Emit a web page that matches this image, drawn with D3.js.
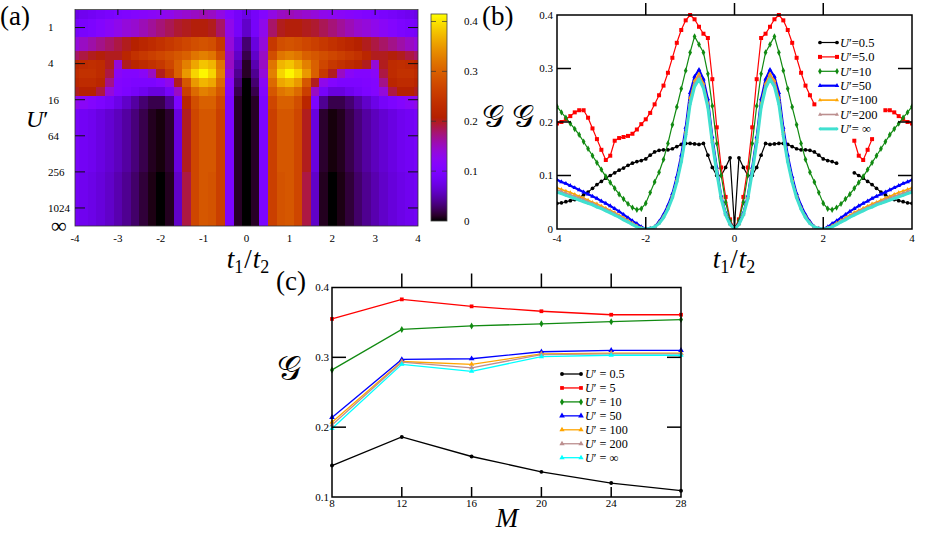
<!DOCTYPE html>
<html>
<head>
<meta charset="utf-8">
<script src="https://cdn.jsdelivr.net/npm/d3@7"></script>
<style>
  body { margin: 0; background: #fff; }
  svg, svg text { font-family: 'Liberation Serif', 'Times New Roman', 'DejaVu Serif', serif; }
</style>
</head>
<body>
<svg id="fig" width="927" height="538" font-family="Liberation Serif, Times New Roman, DejaVu Serif, serif"></svg>
<script>
// ---------------- data ----------------
// panel (b): G versus t1/t2 for several U'
const tGrid = [-4,-3.9,-3.8,-3.7,-3.6,-3.5,-3.4,-3.3,-3.2,-3.1,-3,-2.9,-2.8,-2.7,-2.6,-2.5,-2.4,-2.3,-2.2,-2.1,
  -2,-1.9,-1.8,-1.7,-1.6,-1.5,-1.4,-1.3,-1.2,-1.1,-1,-0.9,-0.8,-0.7,-0.6,-0.5,-0.4,-0.3,-0.2,-0.1,0,
  0.1,0.2,0.3,0.4,0.5,0.6,0.7,0.8,0.9,1,1.1,1.2,1.3,1.4,1.5,1.6,1.7,1.8,1.9,2,
  2.1,2.2,2.3,2.4,2.5,2.6,2.7,2.8,2.9,3,3.1,3.2,3.3,3.4,3.5,3.6,3.7,3.8,3.9,4];

const gU05 = [0.048,0.049,0.051,0.053,0.055,0.059,0.064,0.069,0.076,0.083,
  0.089,0.095,0.100,0.105,0.110,0.114,0.119,0.123,0.126,0.128,
  0.131,0.138,0.144,0.147,0.148,0.148,0.150,0.154,0.158,0.160,
  0.160,0.159,0.158,0.160,0.138,0.115,0.100,0.100,0.115,0.133,
  0.005,
  0.133,0.115,0.100,0.100,0.115,0.138,0.160,0.158,0.159,0.160,
  0.160,0.158,0.154,0.150,0.148,0.148,0.147,0.144,0.138,0.131,
  0.128,0.126,0.123,null,null,null,0.105,0.100,0.095,0.089,
  0.083,0.076,0.069,0.064,0.059,0.055,0.053,0.051,0.049,0.048];

const gU5 = [0.197,0.200,0.205,0.211,0.218,0.222,0.222,0.208,0.188,0.168,
  0.148,0.129,0.137,0.165,0.170,0.172,0.174,0.178,0.186,0.196,
  0.205,0.217,0.233,0.250,0.268,0.292,0.320,0.348,0.372,0.390,
  0.400,0.392,0.378,0.365,0.357,0.280,0.190,0.115,0.060,0.018,
  0.000,
  0.018,0.060,0.115,0.190,0.280,0.357,0.365,0.378,0.392,0.400,
  0.390,0.372,0.348,0.320,0.292,0.268,0.250,0.233,null,null,
  null,null,null,null,null,null,0.165,0.137,0.129,0.148,
  0.168,null,null,0.222,0.222,0.218,0.211,0.205,0.200,0.197];

const gU10 = [0.229,0.218,0.208,0.197,0.187,0.176,0.163,0.150,0.137,0.124,
  0.111,0.098,0.087,0.076,0.065,0.056,0.047,0.040,0.036,0.038,
  0.048,0.068,0.088,0.106,0.130,0.160,0.195,0.228,0.262,0.296,
  0.330,0.360,0.345,0.330,0.290,0.230,0.160,0.100,0.050,0.015,
  0.000,
  0.015,0.050,0.100,0.160,0.230,0.290,0.330,0.345,0.360,0.330,
  0.296,0.262,0.228,0.195,0.160,0.130,0.106,0.088,0.068,0.048,
  0.038,0.036,0.040,0.047,0.056,0.065,0.076,0.087,0.098,0.111,
  0.124,0.137,0.150,0.163,0.176,0.187,0.197,0.208,0.218,0.229];

const gU50 = [0.092,0.088,0.085,0.081,0.077,0.073,0.069,0.065,0.061,0.057,
  0.052,0.048,0.043,0.038,0.033,0.027,0.021,0.015,0.010,0.004,
  0.000,0.001,0.004,0.014,0.027,0.044,0.066,0.098,0.138,0.190,
  0.255,0.285,0.298,0.280,0.243,0.172,0.115,0.062,0.030,0.010,
  0.000,
  0.010,0.030,0.062,0.115,0.172,0.243,0.280,0.298,0.285,0.255,
  0.190,0.138,0.098,0.066,0.044,0.027,0.014,0.004,0.001,0.000,
  0.004,0.010,0.015,0.021,0.027,0.033,0.038,0.043,0.048,0.052,
  0.057,0.061,0.065,0.069,0.073,0.077,0.081,0.085,0.088,0.092];

const gU100 = [0.077,0.074,0.071,0.068,0.065,0.061,0.058,0.054,0.050,0.047,
  0.043,0.039,0.035,0.031,0.026,0.021,0.016,0.011,0.006,0.002,
  0.000,0.001,0.004,0.012,0.024,0.040,0.062,0.092,0.130,0.182,
  0.245,0.277,0.290,0.272,0.235,0.166,0.110,0.059,0.028,0.009,
  0.000,
  0.009,0.028,0.059,0.110,0.166,0.235,0.272,0.290,0.277,0.245,
  0.182,0.130,0.092,0.062,0.040,0.024,0.012,0.004,0.001,0.000,
  0.002,0.006,0.011,0.016,0.021,0.026,0.031,0.035,0.039,0.043,
  0.047,0.050,0.054,0.058,0.061,0.065,0.068,0.071,0.074,0.077];

const gU200 = [0.073,0.070,0.067,0.064,0.061,0.058,0.055,0.051,0.048,0.044,
  0.040,0.037,0.033,0.029,0.024,0.019,0.015,0.010,0.005,0.001,
  0.000,0.001,0.004,0.011,0.023,0.039,0.060,0.090,0.128,0.178,
  0.240,0.272,0.285,0.268,0.231,0.163,0.108,0.058,0.027,0.009,
  0.000,
  0.009,0.027,0.058,0.108,0.163,0.231,0.268,0.285,0.272,0.240,
  0.178,0.128,0.090,0.060,0.039,0.023,0.011,0.004,0.001,0.000,
  0.001,0.005,0.010,0.015,0.019,0.024,0.029,0.033,0.037,0.040,
  0.044,0.048,0.051,0.055,0.058,0.061,0.064,0.067,0.070,0.073];

const gUInf = [0.069,0.066,0.063,0.060,0.057,0.054,0.051,0.048,0.045,0.041,
  0.038,0.034,0.030,0.026,0.022,0.017,0.013,0.008,0.004,0.001,
  0.000,0.001,0.004,0.010,0.021,0.037,0.058,0.087,0.125,0.173,
  0.233,0.266,0.280,0.263,0.227,0.160,0.105,0.056,0.026,0.008,
  0.000,
  0.008,0.026,0.056,0.105,0.160,0.227,0.263,0.280,0.266,0.233,
  0.173,0.125,0.087,0.058,0.037,0.021,0.010,0.004,0.001,0.000,
  0.001,0.004,0.008,0.013,0.017,0.022,0.026,0.030,0.034,0.038,
  0.041,0.045,0.048,0.051,0.054,0.057,0.060,0.063,0.066,0.069];

const bLabels = ['0.5', '5.0', '10', '50', '100', '200', ' \u221E'];

// panel (c): G versus M
const mVals = [8, 12, 16, 20, 24, 28];
const cU05 = [0.145, 0.186, 0.158, 0.136, 0.120, 0.109];
const cU5 = [0.355, 0.383, 0.373, 0.366, 0.361, 0.361];
const cU10 = [0.282, 0.340, 0.345, 0.348, 0.351, 0.354];
const cU50 = [0.214, 0.297, 0.298, 0.308, 0.310, 0.310];
const cU100 = [0.207, 0.294, 0.290, 0.305, 0.306, 0.306];
const cU200 = [0.203, 0.293, 0.285, 0.304, 0.305, 0.305];
const cUInf = [0.198, 0.290, 0.280, 0.301, 0.303, 0.303];
const cLabels = ['0.5', '5', '10', '50', '100', '200', '\u221E'];

// panel (a): map of G over (t1/t2, U')
const heatT = [-4,-3.8,-3.6,-3.4,-3.2,-3,-2.8,-2.6,-2.4,-2.2,-2,-1.8,-1.6,-1.4,-1.2,-1,-0.8,-0.6,-0.4,-0.2,0,
  0.2,0.4,0.6,0.8,1,1.2,1.4,1.6,1.8,2,2.2,2.4,2.6,2.8,3,3.2,3.4,3.6,3.8,4];
const heatU = [0.5, 1, 2, 3, 4, 6, 8, 12, 16, 32, Infinity];
const h05 = [0.075,0.08,0.085,0.09,0.095,0.1,0.105,0.11,0.115,0.12,0.125,0.13,0.14,0.145,0.15,0.155,0.15,0.135,0.11,0.09,0.075,
  0.09,0.11,0.135,0.15,0.155,0.15,0.145,0.14,0.13,0.125,0.12,0.115,0.11,0.105,0.1,0.095,0.09,0.085,0.08,0.075];
const h1 = [0.09,0.095,0.1,0.11,0.12,0.13,0.14,0.145,0.155,0.165,0.175,0.185,0.195,0.2,0.205,0.205,0.2,0.18,0.13,0.09,0.06,
  0.09,0.13,0.18,0.2,0.205,0.205,0.2,0.195,0.185,0.175,0.165,0.155,0.145,0.14,0.13,0.12,0.11,0.1,0.095,0.09];
const h2 = [0.14,0.15,0.16,0.17,0.18,0.19,0.2,0.21,0.22,0.23,0.24,0.25,0.26,0.27,0.28,0.285,0.28,0.25,0.14,0.07,0.03,
  0.07,0.14,0.25,0.28,0.285,0.28,0.27,0.26,0.25,0.24,0.23,0.22,0.21,0.2,0.19,0.18,0.17,0.16,0.15,0.14];
const h3 = [0.18,0.19,0.2,0.205,0.2,0.2,0.22,0.24,0.25,0.26,0.27,0.28,0.29,0.3,0.32,0.33,0.32,0.28,0.15,0.06,0.02,
  0.06,0.15,0.28,0.32,0.33,0.32,0.3,0.29,0.28,0.27,0.26,0.25,0.24,0.22,0.2,0.2,0.205,0.2,0.19,0.18];
const h4 = [0.22,0.23,0.235,0.23,0.2,0.14,0.2,0.22,0.23,0.24,0.25,0.27,0.3,0.33,0.36,0.38,0.37,0.32,0.15,0.05,0.01,
  0.05,0.15,0.32,0.37,0.38,0.36,0.33,0.3,0.27,0.25,0.24,0.23,0.22,0.2,0.14,0.2,0.23,0.235,0.23,0.22];
const h6 = [0.23,0.24,0.24,0.23,0.19,0.12,0.11,0.11,0.12,0.15,0.2,0.25,0.3,0.35,0.39,0.41,0.39,0.33,0.14,0.04,0.01,
  0.04,0.14,0.33,0.39,0.41,0.39,0.35,0.3,0.25,0.2,0.15,0.12,0.11,0.11,0.12,0.19,0.23,0.24,0.24,0.23];
const h8 = [0.22,0.23,0.23,0.22,0.17,0.11,0.105,0.1,0.1,0.1,0.11,0.13,0.2,0.29,0.35,0.37,0.36,0.31,0.12,0.03,0,
  0.03,0.12,0.31,0.36,0.37,0.35,0.29,0.2,0.13,0.11,0.1,0.1,0.1,0.105,0.11,0.17,0.22,0.23,0.23,0.22];
const h12 = [0.2,0.21,0.21,0.19,0.14,0.11,0.1,0.09,0.08,0.07,0.07,0.09,0.15,0.26,0.31,0.33,0.32,0.29,0.11,0.02,0,
  0.02,0.11,0.29,0.32,0.33,0.31,0.26,0.15,0.09,0.07,0.07,0.08,0.09,0.1,0.11,0.14,0.19,0.21,0.21,0.2];
const h16 = [0.13,0.12,0.11,0.1,0.09,0.075,0.06,0.045,0.03,0.02,0.02,0.04,0.1,0.22,0.28,0.3,0.3,0.27,0.1,0.01,0,
  0.01,0.1,0.27,0.3,0.3,0.28,0.22,0.1,0.04,0.02,0.02,0.03,0.045,0.06,0.075,0.09,0.1,0.11,0.12,0.13];
const h32 = [0.09,0.085,0.08,0.072,0.064,0.055,0.045,0.033,0.02,0.008,0.003,0.012,0.07,0.2,0.27,0.29,0.29,0.26,0.1,0.01,0,
  0.01,0.1,0.26,0.29,0.29,0.27,0.2,0.07,0.012,0.003,0.008,0.02,0.033,0.045,0.055,0.064,0.072,0.08,0.085,0.09];
const hInf = [0.085,0.08,0.075,0.068,0.06,0.05,0.04,0.028,0.015,0.005,0,0.008,0.06,0.19,0.27,0.29,0.285,0.26,0.1,0.01,0,
  0.01,0.1,0.26,0.285,0.29,0.27,0.19,0.06,0.008,0,0.005,0.015,0.028,0.04,0.05,0.06,0.068,0.075,0.08,0.085];
const heatRows = [h05, h1, h2, h3, h4, h6, h8, h12, h16, h32, hInf];

const uTicks = [1, 4, 16, 64, 256, 1024];
const cbTicks = [0, 0.1, 0.2, 0.3, 0.4];
const cbMax = 0.415;

// ---------------- helpers ----------------
const SERIF = 'Liberation Serif, Times New Roman, DejaVu Serif, serif';
const svg = d3.select('#fig');

// gnuplot-like palette (rgbformulae 7,5,15)
const palette = (x) => {
  const c = (v) => Math.round(255 * Math.max(0, Math.min(1, v)));
  return `rgb(${c(Math.sqrt(x))},${c(x * x * x)},${c(Math.sin(2 * Math.PI * x))})`;
};
const color = d3.scaleSequential(palette).domain([0, cbMax]).clamp(true);

const italicU = (sel, rest) => {
  sel.append('tspan').attr('font-style', 'italic').text('U');
  sel.append('tspan').text('\u2032' + rest);
};

const tOverT = (g, x, y) => {
  const t = g.append('text').attr('x', x).attr('y', y)
    .attr('text-anchor', 'middle').attr('font-size', 27);
  t.append('tspan').attr('font-style', 'italic').text('t');
  t.append('tspan').attr('font-size', 18).attr('dy', 5).text('1');
  t.append('tspan').attr('dy', -5).attr('dx', 1).text('/');
  t.append('tspan').attr('font-style', 'italic').attr('dx', 1).text('t');
  t.append('tspan').attr('font-size', 18).attr('dy', 5).text('2');
};

const frameTicks = (g, x, y, xt, yt, lenX, lenY, sw) => {
  const [x0, x1] = x.range(), [y0, y1] = [y.range()[1], y.range()[0]];
  const ln = (a, b, c, d) => g.append('line').attr('x1', a).attr('y1', b).attr('x2', c).attr('y2', d)
    .attr('stroke', '#000').attr('stroke-width', sw);
  xt.forEach((v) => { ln(x(v), y0, x(v), y0 + lenX[0]); ln(x(v), y1, x(v), y1 - lenX[1]); });
  yt.forEach((v) => { ln(x0, y(v), x0 + lenY, y(v)); ln(x1, y(v), x1 - lenY, y(v)); });
  g.append('rect').attr('x', x0).attr('y', y0).attr('width', x1 - x0).attr('height', y1 - y0)
    .attr('fill', 'none').attr('stroke', '#000').attr('stroke-width', sw);
};

// ---------------- panel (a) ----------------
const gA = svg.append('g').attr('font-family', SERIF);
const ax = d3.scaleLinear().domain([-4, 4]).range([75, 418]);
const ay = d3.scaleLinear().domain([-1, 11]).range([9.5, 226]);
const lg = (u) => (u === Infinity ? 11 : Math.log2(u));
const halfStep = (heatT[1] - heatT[0]) / 2;

const cells = [];
heatRows.forEach((row, i) => {
  const top = i === 0 ? ay.domain()[0] : (lg(heatU[i - 1]) + lg(heatU[i])) / 2;
  const bot = i === heatU.length - 1 ? ay.domain()[1] : (lg(heatU[i]) + lg(heatU[i + 1])) / 2;
  row.forEach((v, j) => {
    cells.push({
      x0: Math.max(-4, heatT[j] - halfStep), x1: Math.min(4, heatT[j] + halfStep),
      top, bot, v
    });
  });
});
gA.append('g').selectAll('rect').data(cells).join('rect')
  .attr('x', (d) => ax(d.x0))
  .attr('y', (d) => ay(d.top))
  .attr('width', (d) => Math.min(418, ax(d.x1) + 0.6) - ax(d.x0))
  .attr('height', (d) => Math.min(226, ay(d.bot) + 0.6) - ay(d.top))
  .attr('fill', (d) => color(d.v))
  .attr('shape-rendering', 'crispEdges');
gA.append('rect').attr('x', 75).attr('y', 9.5).attr('width', 343).attr('height', 216.5)
  .attr('fill', 'none').attr('stroke', '#333').attr('stroke-width', 0.8);

// ticks of the map
uTicks.forEach((u) => {
  gA.append('line').attr('x1', 75).attr('x2', 85).attr('y1', ay(lg(u))).attr('y2', ay(lg(u)))
    .attr('stroke', '#111').attr('stroke-width', 1);
  gA.append('line').attr('x1', 408).attr('x2', 418).attr('y1', ay(lg(u))).attr('y2', ay(lg(u)))
    .attr('stroke', '#111').attr('stroke-width', 1);
  gA.append('text').attr('x', 48).attr('y', ay(lg(u))).attr('dy', '0.35em')
    .attr('font-size', 11).text(u);
});
gA.append('text').attr('x', 51).attr('y', ay(11)).attr('dy', '0.33em')
  .attr('font-size', 22).text('\u221E');
d3.range(-4, 5).forEach((v) => {
  if (v > -4 && v < 4) {
    gA.append('line').attr('x1', ax(v)).attr('x2', ax(v)).attr('y1', 9.5).attr('y2', 15)
      .attr('stroke', '#111').attr('stroke-width', 1);
  }
  gA.append('text').attr('x', ax(v)).attr('y', 238).attr('dy', '0.35em')
    .attr('text-anchor', 'middle').attr('font-size', 11).text(v < 0 ? '-' + Math.abs(v) : v);
});
const uLab = gA.append('text').attr('x', 26).attr('y', 127).attr('font-size', 24);
uLab.append('tspan').attr('font-style', 'italic').text('U');
uLab.append('tspan').text('\u2032');
tOverT(gA, 248, 268);
gA.append('text').attr('x', 0).attr('y', 25).attr('font-size', 27).text('(a)');

// colour bar
const cbY = d3.scaleLinear().domain([0, cbMax]).range([221, 14]);
const grad = svg.append('defs').append('linearGradient').attr('id', 'cbgrad')
  .attr('x1', 0).attr('y1', 1).attr('x2', 0).attr('y2', 0);
d3.range(0, 41).forEach((k) => {
  grad.append('stop').attr('offset', k / 40).attr('stop-color', color((k / 40) * cbMax));
});
gA.append('rect').attr('x', 431).attr('y', 14).attr('width', 16).attr('height', 207)
  .attr('fill', 'url(#cbgrad)').attr('stroke', '#444').attr('stroke-width', 0.8);
cbTicks.forEach((v) => {
  if (v > 0) {
    gA.append('line').attr('x1', 431).attr('x2', 436).attr('y1', cbY(v)).attr('y2', cbY(v))
      .attr('stroke', '#333').attr('stroke-opacity', 0.7);
    gA.append('line').attr('x1', 442).attr('x2', 447).attr('y1', cbY(v)).attr('y2', cbY(v))
      .attr('stroke', '#333').attr('stroke-opacity', 0.7);
  }
  gA.append('text').attr('x', 464).attr('y', cbY(v)).attr('dy', '0.35em')
    .attr('font-size', 11).text(v);
});

// ---------------- panel (b) ----------------
const gB = svg.append('g').attr('font-family', SERIF);
const bx = d3.scaleLinear().domain([-4, 4]).range([557, 912]);
const by = d3.scaleLinear().domain([0, 0.4]).range([229, 15]);

const bSeries = [
  { vals: gU05, color: '#000000', w: 1.2, sym: d3.symbolCircle, size: 11 },
  { vals: gU5, color: '#ff0000', w: 1.2, sym: d3.symbolSquare, size: 16 },
  { vals: gU10, color: '#118a11', w: 1.2, sym: d3.symbolDiamond, size: 12 },
  { vals: gU50, color: '#0000ff', w: 2.2, sym: d3.symbolTriangle, size: 9 },
  { vals: gU100, color: '#ffa500', w: 1.6, sym: d3.symbolTriangle, size: 7 },
  { vals: gU200, color: '#bc8f8f', w: 1.6, sym: d3.symbolTriangle, size: 7 },
  { vals: gUInf, color: '#40e0d0', w: 3, sym: d3.symbolCircle, size: 6 }
];
const bLine = d3.line().defined((d) => d[1] != null).x((d) => bx(d[0])).y((d) => by(d[1]));
const clip = svg.append('defs').append('clipPath').attr('id', 'clipB');
clip.append('rect').attr('x', 557).attr('y', 12).attr('width', 355).attr('height', 217);
const plotB = gB.append('g').attr('clip-path', 'url(#clipB)');
bSeries.forEach((s) => {
  const pts = tGrid.map((t, i) => [t, s.vals[i]]);
  plotB.append('path').attr('d', bLine(pts)).attr('fill', 'none')
    .attr('stroke', s.color).attr('stroke-width', s.w).attr('stroke-linejoin', 'round');
  plotB.append('g').selectAll('path').data(pts.filter((d) => d[1] != null)).join('path')
    .attr('d', d3.symbol(s.sym, s.size))
    .attr('transform', (d) => `translate(${bx(d[0])},${by(d[1])})`)
    .attr('fill', s.color);
});
frameTicks(gB, bx, by, [-2, 0, 2], [0.1, 0.2, 0.3], [-12, 12], 14, 1.5);
[0, 0.1, 0.2, 0.3, 0.4].forEach((v) => {
  gB.append('text').attr('x', 553).attr('y', by(v)).attr('dy', '0.35em')
    .attr('text-anchor', 'end').attr('font-size', 11).text(v);
});
[-4, -2, 0, 2, 4].forEach((v) => {
  gB.append('text').attr('x', bx(v)).attr('y', 238).attr('dy', '0.35em')
    .attr('text-anchor', 'middle').attr('font-size', 11).text(v < 0 ? '-' + Math.abs(v) : v);
});
// legend (b)
bSeries.forEach((s, i) => {
  const y = 42.5 + i * 14.4;
  gB.append('line').attr('x1', 820).attr('x2', 837).attr('y1', y).attr('y2', y)
    .attr('stroke', s.color).attr('stroke-width', s.w);
  [820, 837].forEach((x) => gB.append('path').attr('d', d3.symbol(s.sym, s.size)())
    .attr('transform', `translate(${x},${y})`).attr('fill', s.color));
  const t = gB.append('text').attr('x', 840).attr('y', y).attr('dy', '0.35em').attr('font-size', 12.5);
  italicU(t, '=' + bLabels[i]);
});
gB.append('text').attr('x', 482).attr('y', 127).attr('font-size', 31).text('\u{1D4A2} \u{1D4A2}');
tOverT(gB, 734, 268);
gB.append('text').attr('x', 482).attr('y', 25).attr('font-size', 27).text('(b)');

// ---------------- panel (c) ----------------
const gC = svg.append('g').attr('font-family', SERIF);
const cx = d3.scaleLinear().domain([8, 28]).range([332, 681]);
const cy = d3.scaleLinear().domain([0.1, 0.4]).range([497, 287.5]);
const cSeries = [
  { vals: cU05, color: '#000000', sym: d3.symbolCircle, size: 12 },
  { vals: cU5, color: '#ff0000', sym: d3.symbolSquare, size: 14 },
  { vals: cU10, color: '#118a11', sym: d3.symbolDiamond, size: 14 },
  { vals: cU50, color: '#0000ff', sym: d3.symbolTriangle, size: 14 },
  { vals: cU100, color: '#ffa500', sym: d3.symbolTriangle, size: 12 },
  { vals: cU200, color: '#bc8f8f', sym: d3.symbolTriangle, size: 12 },
  { vals: cUInf, color: '#00ffff', sym: d3.symbolTriangle, size: 12 }
];
const cLine = d3.line().x((d) => cx(d[0])).y((d) => cy(d[1]));
cSeries.forEach((s) => {
  const pts = mVals.map((m, i) => [m, s.vals[i]]);
  gC.append('path').attr('d', cLine(pts)).attr('fill', 'none')
    .attr('stroke', s.color).attr('stroke-width', 1.3);
  gC.append('g').selectAll('path').data(pts).join('path')
    .attr('d', d3.symbol(s.sym, s.size))
    .attr('transform', (d) => `translate(${cx(d[0])},${cy(d[1])})`)
    .attr('fill', s.color);
});
frameTicks(gC, cx, cy, [12, 16, 20, 24], [0.2, 0.3], [-14, 10], 14, 1.5);
[0.1, 0.2, 0.3, 0.4].forEach((v) => {
  gC.append('text').attr('x', 329).attr('y', cy(v)).attr('dy', '0.35em')
    .attr('text-anchor', 'end').attr('font-size', 11).text(v);
});
mVals.forEach((v) => {
  gC.append('text').attr('x', cx(v)).attr('y', 503).attr('dy', '0.35em')
    .attr('text-anchor', 'middle').attr('font-size', 11).text(v);
});
cSeries.forEach((s, i) => {
  const y = 374 + i * 13.95;
  gC.append('line').attr('x1', 562).attr('x2', 581).attr('y1', y).attr('y2', y)
    .attr('stroke', s.color).attr('stroke-width', 1.3);
  [562, 581].forEach((x) => gC.append('path').attr('d', d3.symbol(s.sym, s.size)())
    .attr('transform', `translate(${x},${y})`).attr('fill', s.color));
  const t = gC.append('text').attr('x', 585).attr('y', y).attr('dy', '0.35em').attr('font-size', 12.2);
  italicU(t, ' = ' + cLabels[i]);
});
gC.append('text').attr('x', 277).attr('y', 380).attr('font-size', 34).text('\u{1D4A2}');
gC.append('text').attr('x', 507).attr('y', 527).attr('text-anchor', 'middle')
  .attr('font-size', 27).attr('font-style', 'italic').text('M');
gC.append('text').attr('x', 276).attr('y', 290).attr('font-size', 27).text('(c)');
</script>
</body>
</html>
